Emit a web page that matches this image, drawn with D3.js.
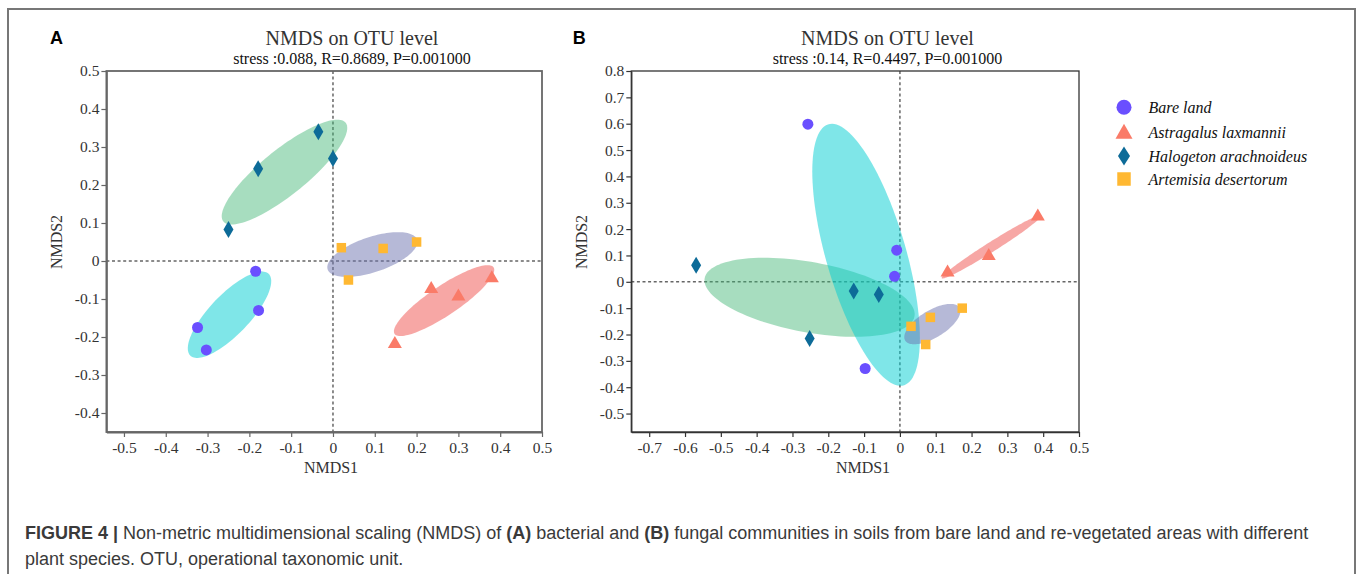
<!DOCTYPE html>
<html>
<head>
<meta charset="utf-8">
<script src="https://cdn.jsdelivr.net/npm/d3@7"></script>
<style>
  html, body { margin: 0; padding: 0; background: #fff; }
  svg { display: block; }
  .serif { font-family: "Liberation Serif", "Times New Roman", serif; }
  .sans { font-family: "Liberation Sans", Arial, sans-serif; }
</style>
</head>
<body>
<svg id="chart" width="1358" height="574"></svg>
<script>
// ---------------- DATA ----------------
const groups = ["Bare land", "Astragalus laxmannii", "Halogeton arachnoideus", "Artemisia desertorum"];

// Panel A (bacteria) NMDS coordinates [NMDS1, NMDS2]
const bareA       = [[-0.185, -0.027], [-0.178, -0.130], [-0.324, -0.175], [-0.303, -0.234]];
const astragalusA = [[0.148, -0.215], [0.235, -0.070], [0.300, -0.090], [0.380, -0.042]];
const halogetonA  = [[-0.250, 0.083], [-0.179, 0.243], [-0.035, 0.340], [0.000, 0.270]];
const artemisiaA  = [[0.020, 0.035], [0.120, 0.033], [0.200, 0.050], [0.037, -0.050]];

// Panel B (fungi)
const bareB       = [[-0.257, 0.598], [-0.009, 0.120], [-0.015, 0.021], [-0.097, -0.329]];
const astragalusB = [[0.133, 0.041], [0.248, 0.103], [0.385, 0.253]];
const halogetonB  = [[-0.569, 0.063], [-0.129, -0.035], [-0.059, -0.048], [-0.252, -0.215]];
const artemisiaB  = [[0.031, -0.169], [0.085, -0.135], [0.174, -0.100], [0.072, -0.238]];

// ellipse scale (number of SDs) per group, order as groups
const ellipseScaleA = [1.3, 1.22, 1.27, 1.3];
const ellipseScaleB = [1.3, 1.1, 1.3, 1.3];

const xTicksA = [-0.5, -0.4, -0.3, -0.2, -0.1, 0, 0.1, 0.2, 0.3, 0.4, 0.5];
const yTicksA = [-0.4, -0.3, -0.2, -0.1, 0, 0.1, 0.2, 0.3, 0.4, 0.5];
const xTicksB = [-0.7, -0.6, -0.5, -0.4, -0.3, -0.2, -0.1, 0, 0.1, 0.2, 0.3, 0.4, 0.5];
const yTicksB = [-0.5, -0.4, -0.3, -0.2, -0.1, 0, 0.1, 0.2, 0.3, 0.4, 0.5, 0.6, 0.7, 0.8];

const statsA = "stress :0.088, R=0.8689, P=0.001000";
const statsB = "stress :0.14, R=0.4497, P=0.001000";

// ---------------- STYLE ----------------
const pointColors   = ["#6A4FFF", "#FA7B68", "#0D6B98", "#FFB832"];
const ellipseColors = ["rgba(0,206,209,0.5)", "rgba(240,80,75,0.5)", "rgba(60,179,113,0.45)", "rgba(110,115,175,0.5)"];
const shapes = ["circle", "triangle", "diamond", "square"];
const drawOrder = [2, 0, 1, 3]; // ellipse draw order

const svg = d3.select("#chart");

// outer frame
svg.append("rect").attr("x", 8).attr("y", 9).attr("width", 1347).attr("height", 620)
  .attr("fill", "none").attr("stroke", "#777").attr("stroke-width", 2);

function markerPath(shape, s) {
  const p = d3.path();
  if (shape === "circle") {
    const r = s.c / 2; p.moveTo(r, 0); p.arc(0, 0, r, 0, 2 * Math.PI);
  } else if (shape === "triangle") {
    const w = s.tw, h = s.th;
    p.moveTo(0, -h * 0.55); p.lineTo(w / 2, h * 0.45); p.lineTo(-w / 2, h * 0.45); p.closePath();
  } else if (shape === "diamond") {
    const w = s.dw, h = s.dh;
    p.moveTo(0, -h / 2); p.lineTo(w / 2, 0); p.lineTo(0, h / 2); p.lineTo(-w / 2, 0); p.closePath();
  } else {
    const q = s.sq / 2; p.rect(-q, -q, 2 * q, 2 * q);
  }
  return p.toString();
}
const plotSizes = { c: 11, tw: 14, th: 12, dw: 10, dh: 17, sq: 9.5 };
const legendSizes = { c: 15, tw: 17, th: 15, dw: 12, dh: 19, sq: 13.5 };

function ellipsePoints(pts, k) {
  const n = pts.length;
  const mx = d3.mean(pts, d => d[0]), my = d3.mean(pts, d => d[1]);
  let sxx = 0, syy = 0, sxy = 0;
  pts.forEach(([x, y]) => { sxx += (x - mx) ** 2; syy += (y - my) ** 2; sxy += (x - mx) * (y - my); });
  sxx /= (n - 1); syy /= (n - 1); sxy /= (n - 1);
  const tr = sxx + syy, det = sxx * syy - sxy * sxy;
  const disc = Math.sqrt(Math.max(0, tr * tr / 4 - det));
  const l1 = tr / 2 + disc, l2 = Math.max(0, tr / 2 - disc);
  let v1 = Math.abs(sxy) > 1e-12 ? [sxy, l1 - sxx] : (sxx >= syy ? [1, 0] : [0, 1]);
  const nv = Math.hypot(v1[0], v1[1]); v1 = [v1[0] / nv, v1[1] / nv];
  const v2 = [-v1[1], v1[0]];
  const a = k * Math.sqrt(l1), b = k * Math.sqrt(l2);
  return d3.range(0, 120).map(i => {
    const t = i / 120 * 2 * Math.PI;
    return [mx + a * Math.cos(t) * v1[0] + b * Math.sin(t) * v2[0],
            my + a * Math.cos(t) * v1[1] + b * Math.sin(t) * v2[1]];
  });
}

// plain hyphen-minus like the reference
const fmt = v => (Math.abs(v) < 1e-9 ? "0" : v.toFixed(1));

function panel(cfg) {
  const x = d3.scaleLinear().domain(cfg.xDomain).range(cfg.xRange);
  const y = d3.scaleLinear().domain(cfg.yDomain).range(cfg.yRange);
  const g = svg.append("g");
  const [x0, x1] = cfg.xRange, [y0, y1] = cfg.yRange;

  g.append("line").attr("x1", x(0)).attr("x2", x(0)).attr("y1", y1).attr("y2", y0)
    .attr("stroke", "#666").attr("stroke-width", 1.5).attr("stroke-dasharray", "3,2.6");
  g.append("line").attr("x1", x0).attr("x2", x1).attr("y1", y(0)).attr("y2", y(0))
    .attr("stroke", "#666").attr("stroke-width", 1.5).attr("stroke-dasharray", "3,2.6");

  const line = d3.line().x(d => x(d[0])).y(d => y(d[1])).curve(d3.curveLinearClosed);
  cfg.order.forEach(gi => {
    g.append("path").attr("d", line(ellipsePoints(cfg.series[gi], cfg.scales[gi])))
      .attr("fill", ellipseColors[gi]).attr("stroke", "none");
  });

  cfg.series.forEach((pts, gi) => {
    g.selectAll(null).data(pts).enter().append("path")
      .attr("d", markerPath(shapes[gi], plotSizes))
      .attr("transform", d => `translate(${x(d[0])},${y(d[1])})`)
      .attr("fill", pointColors[gi]);
  });

  g.append("rect").attr("x", x0).attr("y", y1).attr("width", x1 - x0).attr("height", y0 - y1)
    .attr("fill", "none").attr("stroke", cfg.axisColor).attr("stroke-width", cfg.axisWidth);

  const xAxis = d3.axisBottom(x).tickValues(cfg.xTicks).tickFormat(fmt).tickSize(5).tickSizeOuter(0);
  const yAxis = d3.axisLeft(y).tickValues(cfg.yTicks).tickFormat(fmt).tickSize(5).tickSizeOuter(0);
  const gx = g.append("g").attr("transform", `translate(0,${y0})`).call(xAxis);
  const gy = g.append("g").attr("transform", `translate(${x0},0)`).call(yAxis);
  [gx, gy].forEach(ax => {
    ax.select(".domain").attr("stroke", cfg.axisColor).attr("stroke-width", cfg.axisWidth);
    ax.selectAll(".tick line").attr("stroke", cfg.axisColor).attr("stroke-width", 1.2);
    ax.selectAll(".tick text").attr("class", "serif").attr("font-size", 15.5).attr("fill", "#333");
  });
  gx.selectAll(".tick text").attr("dy", "0.95em").attr("y", 6);
  gy.selectAll(".tick text").attr("x", -7);

  g.append("text").attr("class", "serif").attr("x", cfg.titleX).attr("y", 45)
    .attr("text-anchor", "middle").attr("font-size", 20).attr("fill", "#333").text("NMDS on OTU level");
  g.append("text").attr("class", "serif").attr("x", cfg.titleX).attr("y", 63.5)
    .attr("text-anchor", "middle").attr("font-size", 16).attr("fill", "#111").text(cfg.stats);
  g.append("text").attr("class", "serif").attr("x", cfg.xLabelX).attr("y", 473)
    .attr("text-anchor", "middle").attr("font-size", 16).attr("fill", "#333").text("NMDS1");
  g.append("text").attr("class", "serif")
    .attr("transform", `translate(${cfg.yLabelX},242) rotate(-90)`)
    .attr("text-anchor", "middle").attr("font-size", 16).attr("fill", "#333").text("NMDS2");
  g.append("text").attr("class", "sans").attr("x", cfg.letterX).attr("y", 44.3)
    .attr("font-size", 18).attr("font-weight", "bold").attr("fill", "#000").text(cfg.letter);
}

panel({
  xDomain: [-0.542, 0.5], xRange: [106.4, 542], yDomain: [-0.45, 0.5], yRange: [432, 71],
  xTicks: xTicksA, yTicks: yTicksA,
  series: [bareA, astragalusA, halogetonA, artemisiaA], scales: ellipseScaleA, order: drawOrder,
  axisColor: "#666", axisWidth: 1.8, titleX: 352, stats: statsA, xLabelX: 331, yLabelX: 62,
  letter: "A", letterX: 50
});
panel({
  xDomain: [-0.75, 0.5], xRange: [631.3, 1079], yDomain: [-0.57, 0.8], yRange: [432, 71],
  xTicks: xTicksB, yTicks: yTicksB,
  series: [bareB, astragalusB, halogetonB, artemisiaB], scales: ellipseScaleB, order: drawOrder,
  axisColor: "#333", axisWidth: 1.3, titleX: 887.5, stats: statsB, xLabelX: 863, yLabelX: 587,
  letter: "B", letterX: 572.7
});

// legend
const legendY = [107.3, 132, 156, 179];
const lg = svg.append("g");
groups.forEach((name, i) => {
  lg.append("path").attr("d", markerPath(shapes[i], legendSizes))
    .attr("transform", `translate(1124,${legendY[i]})`).attr("fill", pointColors[i]);
  lg.append("text").attr("class", "serif").attr("x", 1148.5).attr("y", legendY[i] + 5.5)
    .attr("font-size", 16).attr("font-style", "italic").attr("fill", "#111").text(name);
});

// caption
const cap1 = [
  ["FIGURE 4 | ", true], ["Non-metric multidimensional scaling (NMDS) of ", false], ["(A)", true],
  [" bacterial and ", false], ["(B)", true],
  [" fungal communities in soils from bare land and re-vegetated areas with different", false]
];
const t1 = svg.append("text").attr("class", "sans").attr("x", 25).attr("y", 539)
  .attr("font-size", 18).attr("fill", "#3a3a3a");
cap1.forEach(([s, b]) => t1.append("tspan").attr("font-weight", b ? "bold" : "normal").text(s));
svg.append("text").attr("class", "sans").attr("x", 25).attr("y", 565)
  .attr("font-size", 18).attr("fill", "#3a3a3a").text("plant species. OTU, operational taxonomic unit.");
</script>
</body>
</html>
